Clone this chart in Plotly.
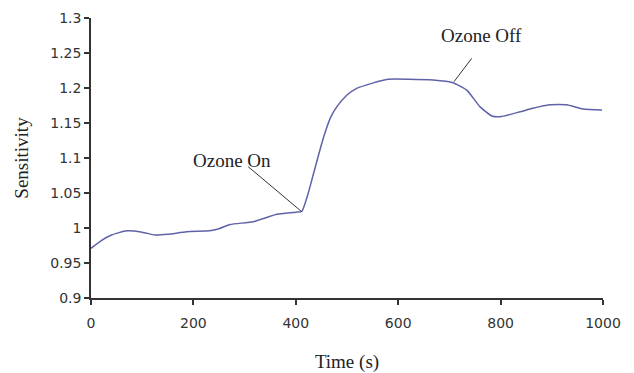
import plotly.graph_objects as go

time_s = [0, 20, 40, 70, 100, 125, 150, 187, 232, 250, 272, 317, 363, 400, 412, 424, 434, 447, 457, 468, 480, 500, 519, 550, 580, 620, 668, 707, 734, 760, 783, 799, 838, 863, 896, 929, 961, 998]
sensitivity = [0.971, 0.982, 0.990, 0.996, 0.994, 0.990, 0.991, 0.9947, 0.996, 0.999, 1.005, 1.009, 1.0196, 1.0225, 1.024, 1.049, 1.076, 1.111, 1.136, 1.158, 1.173, 1.190, 1.1995, 1.207, 1.2124, 1.2125, 1.2114, 1.2076, 1.197, 1.173, 1.16, 1.159, 1.166, 1.171, 1.176, 1.176, 1.170, 1.1686]

x_ticks = [0, 200, 400, 600, 800, 1000]
y_ticks = [0.9, 0.95, 1.0, 1.05, 1.1, 1.15, 1.2, 1.25, 1.3]
y_tick_text = ["0.9", "0.95", "1", "1.05", "1.1", "1.15", "1.2", "1.25", "1.3"]

labels = ["Ozone On", "Ozone Off"]
label_pos = [(275, 1.097), (763, 1.2757)]
leader_lines = [((307, 1.0876), (411.5, 1.0233)), ((743.6, 1.2424), (709, 1.209))]

serif = "Liberation Serif, Times New Roman, serif"
sans = "DejaVu Sans, Verdana, sans-serif"

fig = go.Figure()
fig.add_trace(go.Scatter(x=time_s, y=sensitivity, mode="lines",
                         line=dict(color="#5f62a8", width=1.5, shape="spline", smoothing=0.5),
                         showlegend=False, hoverinfo="skip"))

for text, (lx, ly) in zip(labels, label_pos):
    fig.add_annotation(x=lx, y=ly, text=text, showarrow=False, xref="x", yref="y",
                       font=dict(family=serif, size=19, color="#222"))
for (x0, y0), (x1, y1) in leader_lines:
    fig.add_shape(type="line", x0=x0, y0=y0, x1=x1, y1=y1, xref="x", yref="y",
                  line=dict(color="#333", width=1))

axis_common = dict(showgrid=False, zeroline=False, showline=True, linecolor="#333", linewidth=1.5,
                   ticks="outside", ticklen=5, tickcolor="#333", tickwidth=1.5, automargin=False,
                   tickfont=dict(family=sans, size=14, color="#333"))

fig.update_xaxes(range=[0, 1000], tickvals=x_ticks, ticktext=[str(v) for v in x_ticks],
                 ticklabelstandoff=6,
                 title=dict(text="Time (s)", standoff=25, font=dict(family=serif, size=19, color="#222")),
                 **axis_common)
fig.update_yaxes(range=[0.9, 1.3], tickvals=y_ticks, ticktext=y_tick_text,
                 title=dict(text="Sensitivity", standoff=17, font=dict(family=serif, size=19, color="#222")),
                 **axis_common)

fig.update_layout(width=634, height=373, margin=dict(l=91, r=31, t=18, b=75),
                  paper_bgcolor="white", plot_bgcolor="white")

fig.write_html("out.html")
